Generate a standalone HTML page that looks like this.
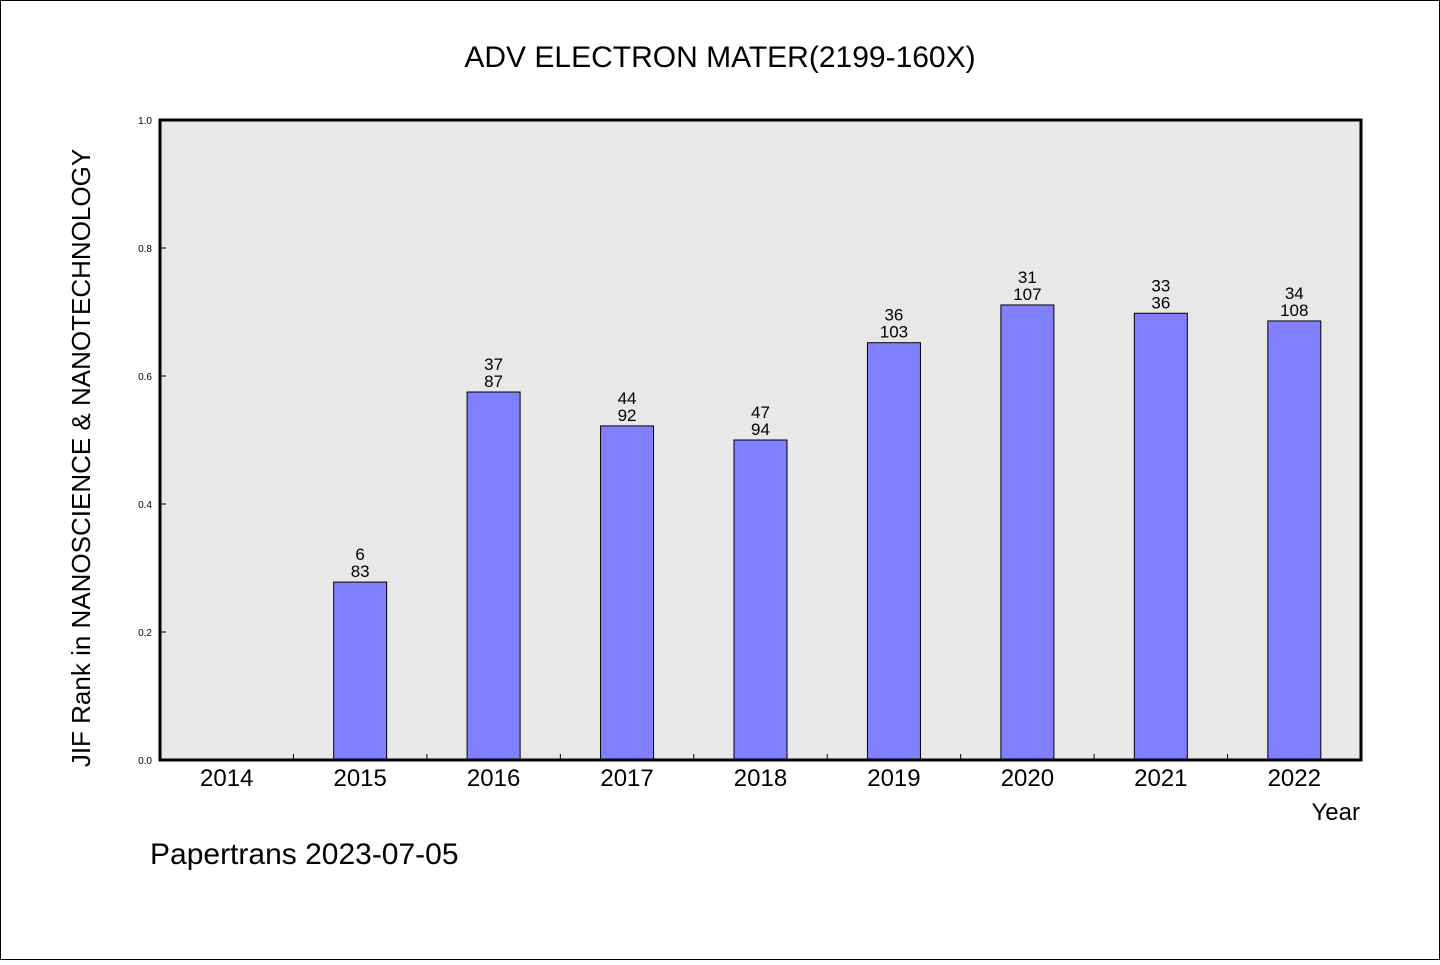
<!DOCTYPE html>
<html><head><meta charset="utf-8"><style>
body{margin:0;background:#fff}
svg text{font-family:"WenQuanYi Zen Hei","Liberation Sans",sans-serif}
</style></head><body>
<svg id="chart" width="1440" height="960" xmlns="http://www.w3.org/2000/svg">
<rect x="0.5" y="0.5" width="1439" height="959" fill="#fff" stroke="#000"/>
<text x="720" y="67" font-size="30" text-anchor="middle">ADV ELECTRON MATER(2199-160X)</text>
<rect x="160" y="120" width="1201" height="640" fill="#e8e8e8"/>
<g id="marks"></g>
<rect x="160" y="120" width="1201" height="640" fill="none" stroke="#000" stroke-width="3"/>
<text transform="translate(90,458) rotate(-90)" font-size="26" text-anchor="middle">JIF Rank in NANOSCIENCE &amp; NANOTECHNOLOGY</text>
<text x="1360" y="820" font-size="24" text-anchor="end">Year</text>
<text x="150" y="864" font-size="30">Papertrans 2023-07-05</text>
</svg>
<script>
const categories=["2014","2015","2016","2017","2018","2019","2020","2021","2022"];
const values=[null,0.278,0.575,0.522,0.5,0.652,0.711,0.698,0.686];
const ranks=[null,"6","37","44","47","36","31","33","34"];
const totals=[null,"83","87","92","94","103","107","36","108"];
const yTicks=[0,0.2,0.4,0.6,0.8,1.0];
const yTickLabels=["0.0","0.2","0.4","0.6","0.8","1.0"];
const NS="http://www.w3.org/2000/svg";
const L=160,R=1361,T=120,B=760;
const step=(R-L)/categories.length;
const xc=i=>L+step*(i+0.5);
const y=v=>B-(B-T)*v;
const g=document.getElementById('marks');
function mk(t,a){const e=document.createElementNS(NS,t);for(const k in a)e.setAttribute(k,a[k]);g.appendChild(e);return e;}
yTicks.forEach((v,i)=>{
  const l=mk('line',{x1:L,x2:L+6,y1:y(v),y2:y(v),stroke:'#000'});
  
  
  const t=mk('text',{x:L-8,y:y(v)+4,'font-size':10,'text-anchor':'end'});
  t.textContent=yTickLabels[i];
  
  
});
categories.forEach((c,i)=>{
  if(i>0){const l=mk('line',{x1:L+step*i,x2:L+step*i,y1:B,y2:B-6,stroke:'#000'});
  
  }
  const t=mk('text',{x:xc(i),y:B+26,'font-size':24,'text-anchor':'middle'});
  t.textContent=c;
  
  
  const v=values[i];
  if(v==null)return;
  const r=mk('rect',{x:xc(i)-26.5,y:y(v),width:53,height:B-y(v),fill:'#8080ff',stroke:'#000','stroke-width':1});
  
  
  const t1=mk('text',{x:xc(i),y:y(v)-22,'font-size':17,'text-anchor':'middle'});
  t1.textContent=ranks[i];
  
  
  const t2=mk('text',{x:xc(i),y:y(v)-5,'font-size':17,'text-anchor':'middle'});
  t2.textContent=totals[i];
  
  
});
</script>
</body></html>
